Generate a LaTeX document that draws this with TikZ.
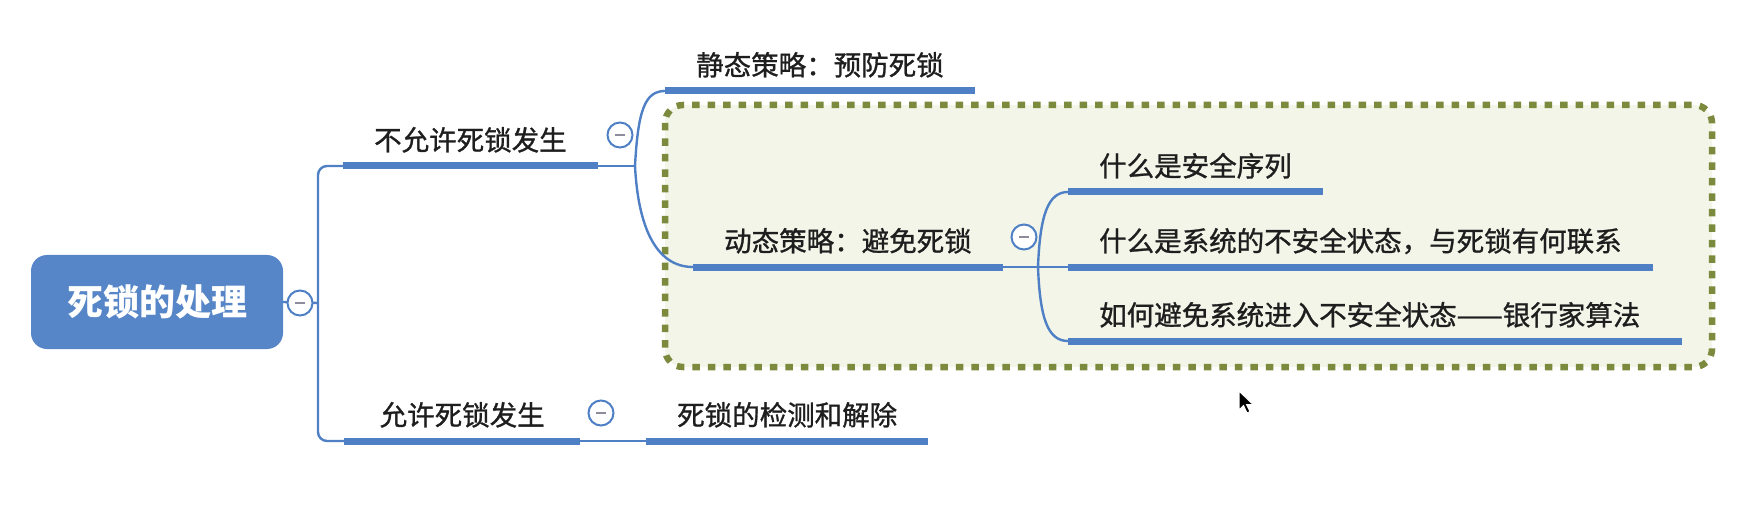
\documentclass[tikz,border=0pt]{standalone}
\usepackage{fontspec}
\newfontfamily\cjk{Noto Sans CJK SC}
\newfontfamily\cjkm{Noto Sans CJK SC}[FakeBold=1.0]
\definecolor{mmblue}{HTML}{4F7FC4}
\definecolor{rootblue}{HTML}{5686C7}
\definecolor{olivec}{HTML}{7B8A3C}
\definecolor{olivebg}{HTML}{F2F5E8}
\definecolor{txt}{HTML}{1E1E1E}
\definecolor{minusgray}{HTML}{8C8C9A}
\tikzset{
  topic/.style={font=\cjkm\fontsize{27.5}{30}\selectfont, text=txt, inner xsep=31pt, inner ysep=0pt,
    text height=24pt, text depth=15.5pt, anchor=south west},
  rootbox/.style={rectangle, rounded corners=16pt, fill=rootblue, text=white,
    font=\cjk\bfseries\fontsize{36}{40}\selectfont, minimum width=252pt, minimum height=94pt, inner sep=0pt},
  bar/.style={draw=mmblue, line width=7pt},
  link/.style={draw=mmblue, line width=2.4pt},
  fold/.style={circle, draw=mmblue, line width=2pt, fill=white, minimum size=25pt, inner sep=0pt,
    path picture={\draw[minusgray, line width=2pt]
      ([xshift=-5pt]path picture bounding box.center) -- ([xshift=5pt]path picture bounding box.center);}},
  zone/.style={draw=olivec, fill=olivebg, line width=6.5pt, dash pattern=on 7.5pt off 8pt, rounded corners=18pt},
}
\begin{document}
\begin{tikzpicture}[x=1pt,y=-1pt]
\useasboundingbox (0,0) rectangle (1752,521);
% dashed zone
\draw[zone] (665,105) rectangle (1712,367);
% nodes
\node[rootbox] (root) at (157,302) {死锁的处理};
\node[topic] (na) at (343,166) {不允许死锁发生};
\node[topic] (st) at (665,91) {静态策略：预防死锁};
\node[topic] (dy) at (693,267) {动态策略：避免死锁};
\node[topic] (c1) at (1068,192) {什么是安全序列};
\node[topic] (c2) at (1068,267) {什么是系统的不安全状态，与死锁有何联系};
\node[topic] (c3) at (1068,341) {如何避免系统进入不安全状态——银行家算法};
\node[topic, minimum width=236pt] (al) at (344,441) {允许死锁发生};
\node[topic] (de) at (646,441) {死锁的检测和解除};
% split points
\coordinate (v0) at (318,303);
\coordinate (s1) at (635,166);
\coordinate (s2) at (1038,267);
% links
\draw[link, rounded corners=9pt] (na.south west) -- (318,166) -- (318,441) -- (al.south west);
\draw[link] (root.east) -- (v0);
\draw[link] (na.south east) -- (s1);
\draw[link] (s1) .. controls (638,110) and (645,91) .. (st.south west);
\draw[link] (s1) .. controls (638,225) and (655,267) .. (dy.south west);
\draw[link] (dy.south east) -- (s2) -- (c2.south west);
\draw[link] (s2) .. controls (1040,215) and (1048,192) .. (c1.south west);
\draw[link] (s2) .. controls (1040,319) and (1048,341) .. (c3.south west);
\draw[link] (al.south east) -- (de.south west);
% bars
\foreach \n in {na,st,dy,c1,c2,al,de}{
  \draw[bar] (\n.south west) -- (\n.south east);
}
\draw[bar] (c3.south west) -- ([xshift=10pt]c3.south east);
% fold markers
\node[fold] (f0) at (300,303) {};
\node[fold] (f1) at (620,135) {};
\node[fold] (f2) at (1024,237) {};
\node[fold] (f3) at (601,413) {};
% mouse cursor
\filldraw[fill=black, draw=white, line width=1pt] (1239,391) -- ++(0,19) -- ++(4.5,-4.5) -- ++(3.5,7.5)
  -- ++(3,-1.3) -- ++(-3.5,-7.2) -- ++(6.5,0) -- cycle;
\end{tikzpicture}
\end{document}
